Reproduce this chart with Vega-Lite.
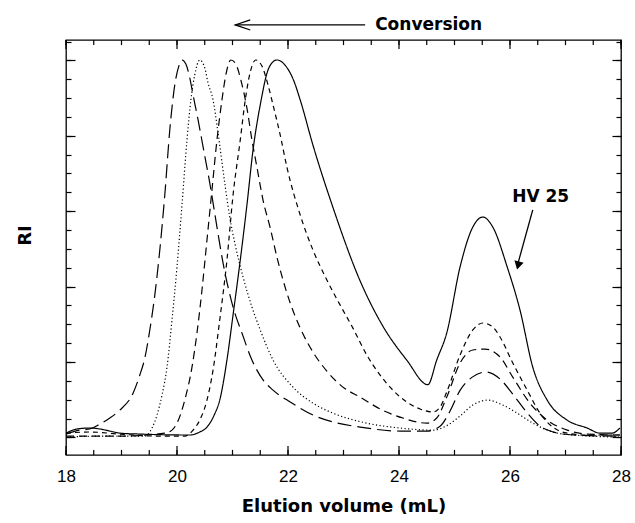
{
  "$schema": "https://vega.github.io/schema/vega-lite/v6.json",
  "width": 555,
  "height": 415,
  "autosize": {"type": "none"},
  "padding": {"left": 66, "top": 40, "right": 14, "bottom": 68},
  "background": "white",
  "config": {
    "view": {"stroke": "black", "strokeWidth": 1.3},
    "axis": {"domain": false, "grid": false, "tickColor": "black", "tickWidth": 1.2, "tickOpacity": 1, "labelColor": "black", "titleColor": "black"}
  },
  "datasets": {
    "curves": [
      {"s":"a","x":18.00,"y":0.18},{"s":"a","x":18.25,"y":0.39},{"s":"a","x":18.43,"y":0.45},{"s":"a","x":18.61,"y":0.71},{"s":"a","x":18.79,"y":1.03},{"s":"a","x":18.97,"y":1.45},{"s":"a","x":19.21,"y":2.36},{"s":"a","x":19.33,"y":3.31},{"s":"a","x":19.42,"y":4.21},{"s":"a","x":19.51,"y":5.70},{"s":"a","x":19.60,"y":7.55},{"s":"a","x":19.69,"y":9.94},{"s":"a","x":19.78,"y":12.86},{"s":"a","x":19.87,"y":16.31},{"s":"a","x":19.96,"y":18.70},{"s":"a","x":20.04,"y":19.76},{"s":"a","x":20.09,"y":20.02},{"s":"a","x":20.16,"y":19.81},{"s":"a","x":20.23,"y":19.07},{"s":"a","x":20.29,"y":18.16},{"s":"a","x":20.38,"y":16.84},{"s":"a","x":20.47,"y":15.41},{"s":"a","x":20.59,"y":13.50},{"s":"a","x":20.72,"y":11.16},{"s":"a","x":20.83,"y":9.25},{"s":"a","x":21.01,"y":6.92},{"s":"a","x":21.17,"y":5.54},{"s":"a","x":21.35,"y":4.11},{"s":"a","x":21.55,"y":3.05},{"s":"a","x":21.73,"y":2.51},{"s":"a","x":22.04,"y":1.88},{"s":"a","x":22.45,"y":1.19},{"s":"a","x":22.81,"y":0.82},{"s":"a","x":23.30,"y":0.55},{"s":"a","x":24.02,"y":0.34},{"s":"a","x":24.50,"y":0.34},{"s":"a","x":24.74,"y":0.60},{"s":"a","x":24.92,"y":1.40},{"s":"a","x":25.10,"y":2.50},{"s":"a","x":25.32,"y":3.20},{"s":"a","x":25.57,"y":3.47},{"s":"a","x":25.82,"y":3.10},{"s":"a","x":26.05,"y":2.30},{"s":"a","x":26.31,"y":1.30},{"s":"a","x":26.54,"y":0.60},{"s":"a","x":26.77,"y":0.30},{"s":"a","x":27.14,"y":0.13},{"s":"a","x":27.98,"y":0.07},
      {"s":"b","x":18.00,"y":0.02},{"s":"b","x":18.61,"y":0.07},{"s":"b","x":19.42,"y":0.07},{"s":"b","x":19.55,"y":0.50},{"s":"b","x":19.64,"y":1.19},{"s":"b","x":19.73,"y":2.25},{"s":"b","x":19.82,"y":3.73},{"s":"b","x":19.91,"y":6.23},{"s":"b","x":20.00,"y":9.04},{"s":"b","x":20.09,"y":12.33},{"s":"b","x":20.18,"y":15.78},{"s":"b","x":20.25,"y":17.90},{"s":"b","x":20.32,"y":19.23},{"s":"b","x":20.41,"y":20.02},{"s":"b","x":20.50,"y":19.60},{"s":"b","x":20.56,"y":18.80},{"s":"b","x":20.65,"y":17.90},{"s":"b","x":20.74,"y":16.15},{"s":"b","x":20.86,"y":13.50},{"s":"b","x":20.95,"y":11.69},{"s":"b","x":21.05,"y":10.20},{"s":"b","x":21.19,"y":8.51},{"s":"b","x":21.35,"y":6.92},{"s":"b","x":21.50,"y":5.70},{"s":"b","x":21.73,"y":4.11},{"s":"b","x":22.09,"y":2.67},{"s":"b","x":22.45,"y":1.82},{"s":"b","x":22.81,"y":1.29},{"s":"b","x":23.42,"y":0.76},{"s":"b","x":24.02,"y":0.50},{"s":"b","x":24.61,"y":0.39},{"s":"b","x":24.88,"y":0.66},{"s":"b","x":25.10,"y":1.14},{"s":"b","x":25.33,"y":1.72},{"s":"b","x":25.60,"y":1.98},{"s":"b","x":25.87,"y":1.72},{"s":"b","x":26.13,"y":1.29},{"s":"b","x":26.41,"y":0.76},{"s":"b","x":26.77,"y":0.29},{"s":"b","x":27.14,"y":0.13},{"s":"b","x":27.98,"y":0.02},
      {"s":"c","x":18.00,"y":0.07},{"s":"c","x":18.97,"y":0.07},{"s":"c","x":19.78,"y":0.23},{"s":"c","x":19.91,"y":0.39},{"s":"c","x":20.00,"y":0.76},{"s":"c","x":20.14,"y":1.98},{"s":"c","x":20.27,"y":3.73},{"s":"c","x":20.36,"y":5.54},{"s":"c","x":20.45,"y":7.82},{"s":"c","x":20.54,"y":10.47},{"s":"c","x":20.63,"y":13.13},{"s":"c","x":20.72,"y":15.78},{"s":"c","x":20.81,"y":17.90},{"s":"c","x":20.88,"y":19.23},{"s":"c","x":20.97,"y":20.02},{"s":"c","x":21.06,"y":19.81},{"s":"c","x":21.15,"y":18.96},{"s":"c","x":21.26,"y":17.47},{"s":"c","x":21.35,"y":15.78},{"s":"c","x":21.44,"y":14.34},{"s":"c","x":21.55,"y":12.59},{"s":"c","x":21.68,"y":11.11},{"s":"c","x":21.80,"y":9.57},{"s":"c","x":21.91,"y":8.35},{"s":"c","x":22.04,"y":7.13},{"s":"c","x":22.22,"y":5.80},{"s":"c","x":22.45,"y":4.53},{"s":"c","x":22.70,"y":3.52},{"s":"c","x":22.99,"y":2.67},{"s":"c","x":23.30,"y":2.14},{"s":"c","x":23.66,"y":1.51},{"s":"c","x":24.07,"y":1.03},{"s":"c","x":24.50,"y":0.76},{"s":"c","x":24.68,"y":1.03},{"s":"c","x":24.86,"y":2.14},{"s":"c","x":25.10,"y":3.95},{"s":"c","x":25.33,"y":4.64},{"s":"c","x":25.55,"y":4.69},{"s":"c","x":25.82,"y":4.27},{"s":"c","x":26.05,"y":3.20},{"s":"c","x":26.36,"y":1.82},{"s":"c","x":26.67,"y":0.92},{"s":"c","x":27.03,"y":0.39},{"s":"c","x":27.39,"y":0.18},{"s":"c","x":27.98,"y":0.13},
      {"s":"d","x":18.00,"y":0.23},{"s":"d","x":18.43,"y":0.29},{"s":"d","x":18.97,"y":0.18},{"s":"d","x":19.69,"y":0.07},{"s":"d","x":20.14,"y":0.07},{"s":"d","x":20.29,"y":0.39},{"s":"d","x":20.41,"y":0.92},{"s":"d","x":20.54,"y":1.98},{"s":"d","x":20.65,"y":3.58},{"s":"d","x":20.77,"y":6.23},{"s":"d","x":20.90,"y":9.41},{"s":"d","x":21.01,"y":12.86},{"s":"d","x":21.14,"y":15.78},{"s":"d","x":21.23,"y":17.90},{"s":"d","x":21.32,"y":19.38},{"s":"d","x":21.42,"y":20.02},{"s":"d","x":21.53,"y":19.70},{"s":"d","x":21.64,"y":18.70},{"s":"d","x":21.73,"y":17.64},{"s":"d","x":21.86,"y":16.04},{"s":"d","x":21.98,"y":14.34},{"s":"d","x":22.22,"y":11.80},{"s":"d","x":22.45,"y":9.94},{"s":"d","x":22.70,"y":8.35},{"s":"d","x":22.94,"y":7.02},{"s":"d","x":23.17,"y":5.80},{"s":"d","x":23.42,"y":4.37},{"s":"d","x":23.66,"y":3.31},{"s":"d","x":23.89,"y":2.51},{"s":"d","x":24.14,"y":1.88},{"s":"d","x":24.38,"y":1.51},{"s":"d","x":24.61,"y":1.35},{"s":"d","x":24.74,"y":1.61},{"s":"d","x":24.86,"y":2.41},{"s":"d","x":25.10,"y":4.37},{"s":"d","x":25.33,"y":5.70},{"s":"d","x":25.51,"y":6.07},{"s":"d","x":25.69,"y":5.86},{"s":"d","x":25.82,"y":5.33},{"s":"d","x":26.05,"y":3.95},{"s":"d","x":26.31,"y":2.51},{"s":"d","x":26.54,"y":1.29},{"s":"d","x":26.77,"y":0.55},{"s":"d","x":27.03,"y":0.23},{"s":"d","x":27.39,"y":0.13},{"s":"d","x":27.98,"y":0.13},
      {"s":"e","x":18.00,"y":0.23},{"s":"e","x":18.20,"y":0.45},{"s":"e","x":18.43,"y":0.50},{"s":"e","x":18.61,"y":0.45},{"s":"e","x":18.79,"y":0.34},{"s":"e","x":18.97,"y":0.23},{"s":"e","x":19.33,"y":0.18},{"s":"e","x":20.23,"y":0.13},{"s":"e","x":20.41,"y":0.29},{"s":"e","x":20.54,"y":0.55},{"s":"e","x":20.67,"y":1.19},{"s":"e","x":20.77,"y":1.98},{"s":"e","x":20.90,"y":4.11},{"s":"e","x":21.01,"y":6.50},{"s":"e","x":21.14,"y":9.41},{"s":"e","x":21.26,"y":12.33},{"s":"e","x":21.37,"y":15.25},{"s":"e","x":21.50,"y":17.64},{"s":"e","x":21.64,"y":19.49},{"s":"e","x":21.73,"y":19.92},{"s":"e","x":21.80,"y":20.02},{"s":"e","x":21.96,"y":19.70},{"s":"e","x":22.10,"y":18.95},{"s":"e","x":22.22,"y":17.90},{"s":"e","x":22.45,"y":15.50},{"s":"e","x":22.81,"y":12.20},{"s":"e","x":23.30,"y":8.30},{"s":"e","x":23.71,"y":5.90},{"s":"e","x":24.14,"y":4.10},{"s":"e","x":24.52,"y":2.80},{"s":"e","x":24.68,"y":4.11},{"s":"e","x":24.86,"y":5.54},{"s":"e","x":25.10,"y":9.04},{"s":"e","x":25.33,"y":11.16},{"s":"e","x":25.51,"y":11.69},{"s":"e","x":25.69,"y":11.16},{"s":"e","x":25.95,"y":9.04},{"s":"e","x":26.18,"y":6.76},{"s":"e","x":26.41,"y":3.73},{"s":"e","x":26.67,"y":1.98},{"s":"e","x":27.03,"y":0.92},{"s":"e","x":27.39,"y":0.50},{"s":"e","x":27.62,"y":0.23},{"s":"e","x":27.84,"y":0.23},{"s":"e","x":27.98,"y":0.50}
    ],
    "labels": [
      {"t": "Conversion", "x": 23.57, "y": 21.88},
      {"t": "HV 25", "x": 26.04, "y": 12.75}
    ],
    "arrows": [
      {"seg": "c1", "o": 1, "x": 21.05, "y": 21.88},
      {"seg": "c1", "o": 2, "x": 23.39, "y": 21.88},
      {"seg": "c2", "o": 1, "x": 21.32, "y": 22.15},
      {"seg": "c2", "o": 2, "x": 21.05, "y": 21.88},
      {"seg": "c2", "o": 3, "x": 21.32, "y": 21.61},
      {"seg": "h", "o": 1, "x": 26.41, "y": 12.07},
      {"seg": "h", "o": 2, "x": 26.15, "y": 9.3}
    ],
    "heads": [
      {"x": 26.145, "y": 9.12}
    ],
    "xticks": [
      {"v":18},{"v":18.5},{"v":19},{"v":19.5},{"v":20},{"v":20.5},{"v":21},{"v":21.5},{"v":22},{"v":22.5},{"v":23},{"v":23.5},{"v":24},{"v":24.5},{"v":25},{"v":25.5},{"v":26},{"v":26.5},{"v":27},{"v":27.5},{"v":28}
    ]
  },
  "layer": [
    {
      "data": {"name": "curves"},
      "mark": {"type": "line", "color": "black", "strokeWidth": 1.2, "interpolate": "monotone"},
      "encoding": {
        "x": {
          "field": "x", "type": "quantitative",
          "scale": {"domain": [18, 28], "nice": false, "zero": false},
          "axis": {
            "orient": "bottom",
            "values": [18,20,22,24,26,28],
            "ticks": false,
            "format": "d",
            "labelFlush": false,
            "labelOverlap": false,
            "labelPadding": 13,
            "labelFont": "Liberation Sans",
            "labelFontSize": 17,
            "title": "Elution volume (mL)",
            "titleFont": "DejaVu Sans",
            "titleFontWeight": "bold",
            "titleFontSize": 18,
            "titleY": 51,
            "titleBaseline": "middle"
          }
        },
        "y": {
          "field": "y", "type": "quantitative",
          "scale": {"domain": [-0.93, 21.08], "nice": false, "zero": false},
          "axis": {
            "orient": "left",
            "values": [0,1,2,3,4,5,6,7,8,9,10,11,12,13,14,15,16,17,18,19,20,21],
            "tickSize": -5,
            "labels": false,
            "title": "RI",
            "titleFont": "DejaVu Sans",
            "titleFontWeight": "bold",
            "titleFontSize": 18,
            "titleX": -41,
            "titleY": 195,
            "titleBaseline": "middle"
          }
        },
        "strokeDash": {
          "field": "s", "type": "nominal",
          "scale": {"domain": ["a","b","c","d","e"], "range": [[14,6],[1.2,2.4],[8,5],[5,4],[1,0]]},
          "legend": null
        }
      }
    },
    {
      "data": {"name": "labels"},
      "mark": {"type": "text", "align": "left", "baseline": "middle", "font": "DejaVu Sans", "fontWeight": "bold", "fontSize": 17, "color": "black"},
      "encoding": {
        "x": {"field": "x", "type": "quantitative", "scale": {"domain": [18, 28], "nice": false, "zero": false}, "axis": null},
        "y": {
          "field": "y", "type": "quantitative",
          "scale": {"domain": [-0.93, 21.08], "nice": false, "zero": false},
          "axis": {
            "orient": "right",
            "values": [0,1,2,3,4,5,6,7,8,9,10,11,12,13,14,15,16,17,18,19,20,21],
            "tickSize": -5,
            "labels": false,
            "title": null
          }
        },
        "text": {"field": "t", "type": "nominal"}
      }
    },
    {
      "data": {"name": "arrows"},
      "mark": {"type": "line", "color": "black", "strokeWidth": 1.3},
      "encoding": {
        "x": {"field": "x", "type": "quantitative", "scale": {"domain": [18, 28], "nice": false, "zero": false}, "axis": null},
        "y": {
          "field": "y", "type": "quantitative",
          "scale": {"domain": [-0.93, 21.08], "nice": false, "zero": false},
          "axis": {"orient": "left", "values": [0,4,8,12,16,20], "tickSize": -9, "labels": false, "title": null}
        },
        "detail": {"field": "seg", "type": "nominal"},
        "order": {"field": "o", "type": "quantitative"}
      }
    },
    {
      "data": {"name": "heads"},
      "mark": {"type": "point", "shape": "triangle-down", "filled": true, "color": "black", "size": 90, "angle": 14, "opacity": 1},
      "encoding": {
        "x": {"field": "x", "type": "quantitative", "scale": {"domain": [18, 28], "nice": false, "zero": false}, "axis": null},
        "y": {
          "field": "y", "type": "quantitative",
          "scale": {"domain": [-0.93, 21.08], "nice": false, "zero": false},
          "axis": {"orient": "right", "values": [0,4,8,12,16,20], "tickSize": -9, "labels": false, "title": null}
        }
      }
    },
    {
      "data": {"name": "xticks"},
      "mark": {"type": "rule", "color": "black", "strokeWidth": 1.2},
      "encoding": {
        "x": {"field": "v", "type": "quantitative", "scale": {"domain": [18, 28], "nice": false, "zero": false}, "axis": null},
        "y": {"datum": -0.93, "type": "quantitative", "scale": {"domain": [-0.93, 21.08], "nice": false, "zero": false}, "axis": null},
        "y2": {"datum": -0.66}
      }
    },
    {
      "data": {"name": "xticks"},
      "mark": {"type": "rule", "color": "black", "strokeWidth": 1.2},
      "encoding": {
        "x": {"field": "v", "type": "quantitative", "scale": {"domain": [18, 28], "nice": false, "zero": false}, "axis": null},
        "y": {"datum": 21.08, "type": "quantitative", "scale": {"domain": [-0.93, 21.08], "nice": false, "zero": false}, "axis": null},
        "y2": {"datum": 20.81}
      }
    },
    {
      "data": {"name": "xticks"},
      "transform": [{"filter": "datum.v % 2 === 0"}],
      "mark": {"type": "rule", "color": "black", "strokeWidth": 1.2},
      "encoding": {
        "x": {"field": "v", "type": "quantitative", "scale": {"domain": [18, 28], "nice": false, "zero": false}, "axis": null},
        "y": {"datum": -0.93, "type": "quantitative", "scale": {"domain": [-0.93, 21.08], "nice": false, "zero": false}, "axis": null},
        "y2": {"datum": -0.45}
      }
    },
    {
      "data": {"name": "xticks"},
      "transform": [{"filter": "datum.v % 2 === 0"}],
      "mark": {"type": "rule", "color": "black", "strokeWidth": 1.2},
      "encoding": {
        "x": {"field": "v", "type": "quantitative", "scale": {"domain": [18, 28], "nice": false, "zero": false}, "axis": null},
        "y": {"datum": 21.08, "type": "quantitative", "scale": {"domain": [-0.93, 21.08], "nice": false, "zero": false}, "axis": null},
        "y2": {"datum": 20.60}
      }
    }
  ],
  "resolve": {"axis": {"x": "independent", "y": "independent"}}
}
